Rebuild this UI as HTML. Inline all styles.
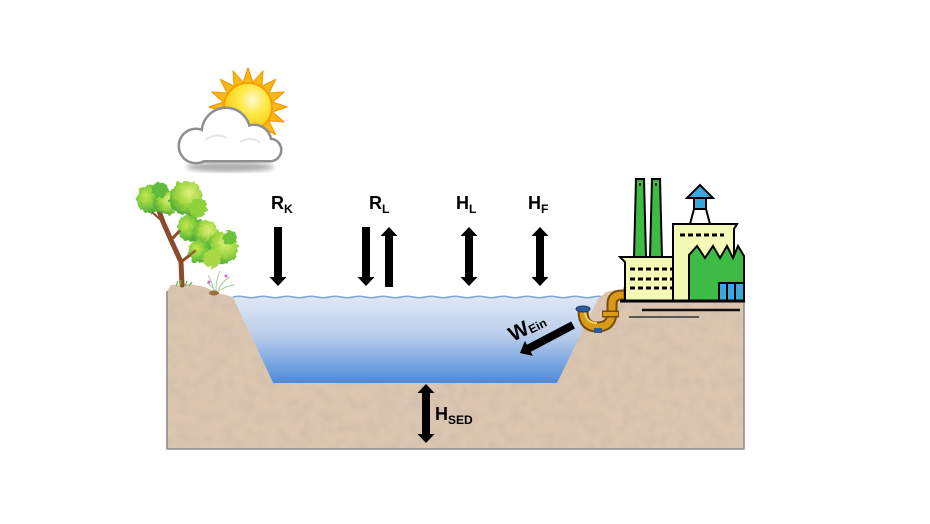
<!DOCTYPE html>
<html><head><meta charset="utf-8"><style>
html,body{margin:0;padding:0;background:#fff;}
svg{display:block;}
text{font-family:"Liberation Sans",sans-serif;font-weight:bold;fill:#000;}
</style></head><body>
<svg width="930" height="524" viewBox="0 0 930 524" xmlns="http://www.w3.org/2000/svg">
<defs>
<linearGradient id="water" x1="0" y1="0" x2="0" y2="1">
<stop offset="0" stop-color="#dfe7f4"/>
<stop offset="0.45" stop-color="#b9cdeb"/>
<stop offset="1" stop-color="#4d8ad9"/>
</linearGradient>
<radialGradient id="sunG" cx="0.6" cy="0.35" r="0.7">
<stop offset="0" stop-color="#fffbd0"/>
<stop offset="0.4" stop-color="#ffe94a"/>
<stop offset="1" stop-color="#f6c300"/>
</radialGradient>
<radialGradient id="leafA" cx="0.6" cy="0.35" r="0.7">
<stop offset="0" stop-color="#e0f07a"/>
<stop offset="0.55" stop-color="#9bd43e"/>
<stop offset="1" stop-color="#45a538"/>
</radialGradient>
<radialGradient id="leafB" cx="0.35" cy="0.4" r="0.75">
<stop offset="0" stop-color="#c8e84a"/>
<stop offset="0.6" stop-color="#6cc23a"/>
<stop offset="1" stop-color="#339a38"/>
</radialGradient>
<filter id="noise" x="0" y="0" width="100%" height="100%">
<feTurbulence type="fractalNoise" baseFrequency="0.09" numOctaves="2" seed="3" result="t"/>
<feColorMatrix in="t" type="matrix" values="0 0 0 0 0.45  0 0 0 0 0.40  0 0 0 0 0.36  0 0 0 -1.6 1.0" result="n"/>
<feComposite in="n" in2="SourceGraphic" operator="in"/>
</filter>
<filter id="leafy" x="-20%" y="-20%" width="140%" height="140%">
<feTurbulence type="fractalNoise" baseFrequency="0.25" numOctaves="2" seed="5" result="t"/>
<feDisplacementMap in="SourceGraphic" in2="t" scale="6" xChannelSelector="R" yChannelSelector="G"/>
</filter>
<filter id="blur"><feGaussianBlur stdDeviation="2.5"/></filter>
</defs>

<!-- water -->
<polygon points="233,297 602,297 557,383 273,383" fill="url(#water)"/>
<path d="M233,297 q6,-1.5 12,0 t12,0 t12,0 t12,0 t12,0 t12,0 t12,0 t12,0 t12,0 t12,0 t12,0 t12,0 t12,0 t12,0 t12,0 t12,0 t12,0 t12,0 t12,0 t12,0 t12,0 t12,0 t12,0 t12,0 t12,0 t12,0 t12,0 t12,0 t12,0 t12,0 t10,0" fill="none" stroke="#7fa3d4" stroke-width="1.5"/>

<!-- soil -->
<path d="M167,291 L171,285 L190,284 L205,287 L215,292 L233,297 L273,383 L557,383 L598,299 L606,292 L616,290 L622,298 L744,301 L744,449 L167,449 Z" fill="#dcc6b0"/>
<path d="M167,291 L171,285 L190,284 L205,287 L215,292 L233,297 L273,383 L557,383 L598,299 L606,292 L616,290 L622,298 L744,301 L744,449 L167,449 Z" fill="#dcc6b0" filter="url(#noise)" opacity="0.3"/>
<polyline points="167,291 167,449 744,449 744,301" fill="none" stroke="#8a8a8a" stroke-width="1.5"/>

<!-- sun -->
<g transform="translate(248,107)">
<g fill="#fbb913" stroke="#f39a00" stroke-width="1.2" stroke-linejoin="round">
<polygon points="-5,-24 0,-39 5,-24"/>
<polygon points="-5,-24 0,-39 5,-24" transform="rotate(22.5)"/>
<polygon points="-5,-24 0,-39 5,-24" transform="rotate(45)"/>
<polygon points="-5,-24 0,-39 5,-24" transform="rotate(67.5)"/>
<polygon points="-5,-24 0,-39 5,-24" transform="rotate(90)"/>
<polygon points="-5,-24 0,-39 5,-24" transform="rotate(112.5)"/>
<polygon points="-5,-24 0,-39 5,-24" transform="rotate(135)"/>
<polygon points="-5,-24 0,-39 5,-24" transform="rotate(157.5)"/>
<polygon points="-5,-24 0,-39 5,-24" transform="rotate(180)"/>
<polygon points="-5,-24 0,-39 5,-24" transform="rotate(-22.5)"/>
<polygon points="-5,-24 0,-39 5,-24" transform="rotate(-45)"/>
<polygon points="-5,-24 0,-39 5,-24" transform="rotate(-67.5)"/>
<polygon points="-5,-24 0,-39 5,-24" transform="rotate(-90)"/>
</g>
<circle r="24" fill="url(#sunG)" stroke="#f3a200" stroke-width="2"/>
</g>

<!-- cloud -->
<ellipse cx="230" cy="167" rx="44" ry="5" fill="#9a9a9a" filter="url(#blur)" opacity="0.8"/>
<g fill="#8f8f8f" stroke="#8f8f8f" stroke-width="5">
<circle cx="196" cy="146" r="16"/>
<circle cx="226" cy="132" r="23"/>
<circle cx="254" cy="142" r="16"/>
<circle cx="270" cy="150" r="10"/>
<rect x="196" y="140" width="74" height="20" rx="2"/>
</g>
<g fill="#ffffff">
<circle cx="196" cy="146" r="16"/>
<circle cx="226" cy="132" r="23"/>
<circle cx="254" cy="142" r="16"/>
<circle cx="270" cy="150" r="10"/>
<rect x="196" y="140" width="74" height="20" rx="2"/>
</g>
<path d="M205,140 q10,-8 22,-2 M240,142 q10,-6 20,0" fill="none" stroke="#e6e6e6" stroke-width="2"/>

<!-- tree -->
<g fill="none" stroke="#8b4a2c" stroke-linecap="round">
<path d="M182,285 L181,262 L171,240 L163,222 L157,205" stroke-width="5"/>
<path d="M181,262 L195,251 L207,242" stroke-width="3"/>
<path d="M171,240 L185,225 L193,210" stroke-width="3"/>
<path d="M163,222 L152,212" stroke-width="2"/>
</g>
<g filter="url(#leafy)">
<circle cx="150" cy="199" r="14" fill="url(#leafB)"/>
<circle cx="166" cy="203" r="12" fill="url(#leafA)"/>
<circle cx="186" cy="198" r="17" fill="url(#leafA)"/>
<circle cx="160" cy="190" r="8" fill="#5fbb3a"/>
<circle cx="198" cy="208" r="9" fill="#8fd23e"/>
<circle cx="190" cy="228" r="13" fill="url(#leafB)"/>
<circle cx="206" cy="234" r="13" fill="url(#leafA)"/>
<circle cx="222" cy="248" r="16" fill="url(#leafA)"/>
<circle cx="200" cy="251" r="12" fill="url(#leafB)"/>
<circle cx="212" cy="259" r="9" fill="#a8d845"/>
<circle cx="230" cy="238" r="7" fill="#6cc23a"/>
</g>
<g fill="none" stroke="#8b4a2c" stroke-linecap="round" opacity="0.8">
<path d="M181,262 L195,251" stroke-width="2.5"/>
<path d="M171,240 L180,231" stroke-width="2"/>
</g>
<g stroke="#5cb83c" stroke-width="1.2" fill="none">
<path d="M176,286 l2,-5 M180,286 l1,-6 M185,286 l2,-5 M189,286 l3,-4"/>
</g>
<g stroke="#a8cf9a" stroke-width="1" fill="none">
<path d="M214,291 q-2,-10 -6,-16 M216,291 q0,-12 4,-20 M218,291 q4,-10 12,-14 M219,291 q8,-6 16,-6 M215,291 q-4,-6 -8,-8"/>
</g>
<circle cx="209" cy="282" r="1.5" fill="#e060c0"/>
<circle cx="226" cy="276" r="1.5" fill="#e060c0"/>
<ellipse cx="214" cy="293" rx="5" ry="2.5" fill="#a0703a"/>

<!-- arrows -->
<g fill="#000">
<polygon points="274,227 282,227 282,277 286.5,277 278,286 269.5,277 274,277"/>
<polygon points="362,227 370,227 370,277 374.5,277 366,286 357.5,277 362,277"/>
<polygon points="389,227 397.5,236 393,236 393,287 385,287 385,236 380.5,236"/>
<polygon points="469,227 477.5,236 473,236 473,277 477.5,277 469,286 460.5,277 465,277 465,236 460.5,236"/>
<polygon points="540,227 548.5,236 544,236 544,277 548.5,277 540,286 531.5,277 536,277 536,236 531.5,236"/>
<polygon points="426,384 434.5,393 430,393 430,434 434.5,434 426,443 417.5,434 422,434 422,393 417.5,393"/>
<g transform="translate(520,353) rotate(-27.8)">
<polygon points="0,0 10,-8.5 10,-4 60,-4 60,4 10,4 10,8.5"/>
</g>
</g>

<!-- labels -->
<text x="271" y="209" font-size="18">R<tspan font-size="12" dy="4">K</tspan></text>
<text x="369" y="209" font-size="18">R<tspan font-size="12" dy="4">L</tspan></text>
<text x="456" y="209" font-size="18">H<tspan font-size="12" dy="4">L</tspan></text>
<text x="528" y="209" font-size="18">H<tspan font-size="12" dy="4">F</tspan></text>
<text x="435" y="420" font-size="18">H<tspan font-size="12" dy="4">SED</tspan></text>
<text transform="translate(513,342) rotate(-27)" font-size="21">W<tspan font-size="12" dy="1">Ein</tspan></text>

<!-- pipe -->
<g fill="none" stroke-linecap="butt">
<path d="M583,311 Q583,327 597,327 Q612,327 612,312 L612,304 Q612,295 622,295 L627,295" stroke="#7a4a0a" stroke-width="11"/>
<path d="M583,311 Q583,327 597,327 Q612,327 612,312 L612,304 Q612,295 622,295 L627,295" stroke="#d99a16" stroke-width="7"/>
<path d="M585,312 Q586,323 597,323" stroke="#f5cf5a" stroke-width="2"/>
<path d="M602,314 L619,314" stroke="#7a4a0a" stroke-width="7"/>
<path d="M603,314 L618,314" stroke="#d99a16" stroke-width="4"/>
</g>
<ellipse cx="583" cy="309" rx="7" ry="3" fill="#2d5c9c" stroke="#1c3c6c" stroke-width="1"/>
<rect x="594" y="328" width="8" height="5" fill="#2d5c9c"/>
<rect x="624" y="288" width="4" height="14" fill="#d99a16" stroke="#7a4a0a" stroke-width="1"/>

<!-- factory -->
<g stroke="#000" stroke-width="2" stroke-linejoin="miter">
<polygon points="634,257 636,179 644,179 646,257" fill="#3dbb44"/>
<polygon points="650,257 652,179 660,179 662,257" fill="#3dbb44"/>
<polygon points="620,257 675,257 673,262 673,301 625,301 625,262" fill="#f4f9b6"/>
<polygon points="673,224 737,224 734,229 734,301 673,301" fill="#f4f9b6"/>
<polygon points="689,301 689,255 697,246 705,258 713,246 720,258 727,246 733,258 738,246 744,256 744,301" fill="#3dbb44"/>
<rect x="719" y="283" width="25" height="18" fill="#3aa8dc"/>
<line x1="727" y1="283" x2="727" y2="301"/>
<line x1="735" y1="283" x2="735" y2="301"/>
<polygon points="687,198 700,185 713,198" fill="#3aa8dc"/>
<rect x="694" y="198" width="12" height="11" fill="#3aa8dc"/>
<line x1="694" y1="209" x2="690" y2="224"/>
<line x1="706" y1="209" x2="710" y2="224"/>
</g>
<g stroke="#000" stroke-width="1.5"><line x1="640" y1="183" x2="640" y2="186"/><line x1="656" y1="183" x2="656" y2="186"/></g>
<g stroke="#000" stroke-width="3" stroke-dasharray="5,3">
<line x1="630" y1="269" x2="672" y2="269"/>
<line x1="630" y1="279" x2="672" y2="279"/>
<line x1="630" y1="288" x2="672" y2="288"/>
<line x1="680" y1="235" x2="724" y2="235"/>
</g>
<line x1="620" y1="301" x2="745" y2="301" stroke="#000" stroke-width="3"/>
<line x1="642" y1="310" x2="740" y2="310" stroke="#111" stroke-width="2.5"/>
<line x1="629" y1="317" x2="699" y2="317" stroke="#333" stroke-width="1.5"/>
</svg>
</body></html>
